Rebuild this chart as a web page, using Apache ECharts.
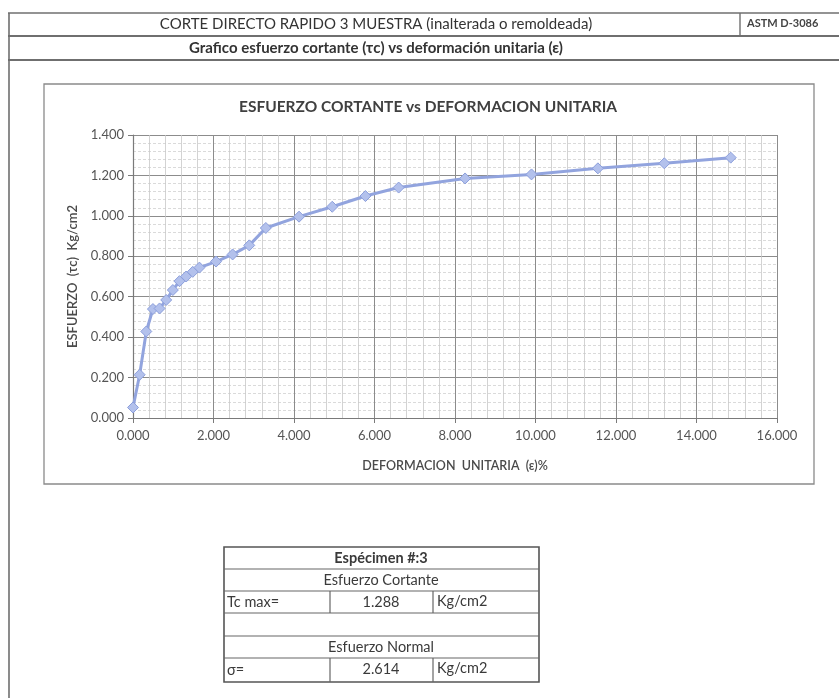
<!DOCTYPE html>
<html>
<head>
<meta charset="utf-8">
<script src="https://cdn.jsdelivr.net/npm/echarts@6/dist/echarts.min.js"></script>
<style>
  html, body { margin: 0; padding: 0; background: #ffffff; }
  #chart { width: 839px; height: 698px; }
</style>
</head>
<body>
<div id="chart"></div>
<script>
// Unit strain (%) and shear stress (kg/cm2) readings, specimen 3
const deformacion = [0, 0.165, 0.33, 0.495, 0.66, 0.825, 0.99, 1.155, 1.32, 1.485, 1.65,
  2.063, 2.475, 2.888, 3.3, 4.125, 4.95, 5.775, 6.6, 8.25, 9.9, 11.55, 13.2, 14.85];
const esfuerzo = [0.052, 0.214, 0.428, 0.539, 0.542, 0.584, 0.633, 0.677, 0.700, 0.723, 0.744,
  0.774, 0.809, 0.854, 0.940, 0.996, 1.045, 1.098, 1.140, 1.185, 1.205, 1.235, 1.260, 1.288];

// Summary table values
const tcMax = '1.288';
const sigmaNormal = '2.614';
const unidad = 'Kg/cm2';

const FONT = 'Lato, "Open Sans", "Noto Sans", sans-serif';
const LINE = '#6f6f6f';

const points = deformacion.map((x, i) => [x, esfuerzo[i]]);

function hline(x1, x2, y, w, c) {
  return { type: 'line', shape: { x1: x1, y1: y, x2: x2, y2: y },
    style: { stroke: c || LINE, lineWidth: w || 1.3 }, silent: true };
}
function vline(x, y1, y2, w, c) {
  return { type: 'line', shape: { x1: x, y1: y1, x2: x, y2: y2 },
    style: { stroke: c || LINE, lineWidth: w || 1.3 }, silent: true };
}
function txt(x, y, s, opt) {
  opt = opt || {};
  return { type: 'text', x: x, y: y, silent: true,
    style: { text: s, font: (opt.weight || 'normal') + ' ' + (opt.size || 14) + 'px ' + FONT,
      fill: opt.color || '#3a3a3a', align: opt.align || 'center', verticalAlign: 'middle' } };
}

// Summary table geometry
const tL = 224, tR = 539, c1 = 330, c2 = 433;
const rows = [547, 569, 591, 613, 636, 658, 682];

const graphics = [
  // page header
  hline(8, 839, 13, 1.6),
  hline(8, 839, 36, 2),
  hline(8, 839, 60, 2),
  vline(9, 13, 698, 1.6),
  vline(740, 13, 36, 1.4),
  txt(376, 24, 'CORTE DIRECTO RAPIDO 3 MUESTRA (inalterada o remoldeada)', { size: 15, color: '#333' }),
  txt(747, 23, 'ASTM D-3086', { size: 11, align: 'left', weight: 'bold', color: '#444' }),
  txt(376, 48, 'Grafico esfuerzo cortante (τc) vs deformación unitaria (ε)', { size: 15, color: '#333', weight: 'bold' }),
  // chart frame
  { type: 'rect', shape: { x: 44, y: 84, width: 770, height: 400 },
    style: { fill: 'none', stroke: '#8a8a8a', lineWidth: 1.3 }, silent: true },
  // summary table
  { type: 'rect', shape: { x: tL, y: rows[0], width: tR - tL, height: rows[6] - rows[0] },
    style: { fill: 'none', stroke: '#555', lineWidth: 1.6 }, silent: true },
  hline(tL, tR, rows[1], 1.2, '#666'),
  hline(tL, tR, rows[2], 1.2, '#666'),
  hline(tL, tR, rows[3], 1.2, '#666'),
  hline(tL, tR, rows[4], 1.2, '#666'),
  hline(tL, tR, rows[5], 1.2, '#666'),
  vline(c1, rows[2], rows[3], 1.2, '#666'),
  vline(c2, rows[2], rows[3], 1.2, '#666'),
  vline(c1, rows[5], rows[6], 1.2, '#666'),
  vline(c2, rows[5], rows[6], 1.2, '#666'),
  txt(381, 558, 'Espécimen #:3', { weight: 'bold', size: 14.5 }),
  txt(381, 580, 'Esfuerzo Cortante', { size: 14.5 }),
  txt(227, 602, 'Tc max=', { align: 'left', size: 14.5 }),
  txt(381, 602, tcMax, { size: 14.5 }),
  txt(437, 601, unidad, { align: 'left', size: 14.5 }),
  txt(381, 647, 'Esfuerzo Normal', { size: 14.5 }),
  txt(227, 670, 'σ=', { align: 'left', size: 14.5 }),
  txt(381, 669, sigmaNormal, { size: 14.5 }),
  txt(437, 668, unidad, { align: 'left', size: 14.5 })
];

const chart = echarts.init(document.getElementById('chart'), null, { renderer: 'canvas' });
chart.setOption({
  animation: false,
  backgroundColor: '#ffffff',
  title: {
    text: 'ESFUERZO CORTANTE vs DEFORMACION UNITARIA',
    left: 423, top: 94, textAlign: 'center',
    textStyle: { fontFamily: FONT, fontSize: 15.5, fontWeight: 'bold', color: '#404040' }
  },
  grid: { left: 133, top: 135, width: 644, height: 283, containLabel: false },
  xAxis: {
    type: 'value', min: 0, max: 16, interval: 2,
    name: 'DEFORMACION  UNITARIA  (ε)%',
    nameLocation: 'middle', nameGap: 41,
    nameTextStyle: { fontFamily: FONT, fontSize: 12.5, fontWeight: '600', color: '#4a4a4a' },
    axisLine: { show: true, lineStyle: { color: '#7a7a7a', width: 1.2 } },
    axisTick: { show: true, inside: false, length: 5, lineStyle: { color: '#7a7a7a' } },
    axisLabel: { fontFamily: FONT, fontSize: 13, color: '#555', margin: 11,
      formatter: v => v.toFixed(3) },
    splitLine: { show: true, lineStyle: { color: '#8c8c8c', width: 1 } },
    minorTick: { show: false, splitNumber: 5 },
    minorSplitLine: { show: true, lineStyle: { color: '#c8c8c8', width: 0.8 } }
  },
  yAxis: {
    type: 'value', min: 0, max: 1.4, interval: 0.2,
    name: 'ESFUERZO  (τc)  Kg/cm2',
    nameLocation: 'middle', nameGap: 54, nameRotate: 90,
    nameTextStyle: { fontFamily: FONT, fontSize: 13, fontWeight: '600', color: '#4a4a4a' },
    axisLine: { show: true, lineStyle: { color: '#7a7a7a', width: 1.2 } },
    axisTick: { show: true, inside: false, length: 5, lineStyle: { color: '#7a7a7a' } },
    axisLabel: { fontFamily: FONT, fontSize: 13, color: '#555', margin: 9,
      formatter: v => v.toFixed(3) },
    splitLine: { show: true, lineStyle: { color: '#8c8c8c', width: 1 } },
    minorTick: { show: false, splitNumber: 5 },
    minorSplitLine: { show: true, lineStyle: { color: '#d0d0d0', width: 0.8, type: [3, 2] } }
  },
  series: [{
    type: 'line',
    data: points,
    symbol: 'diamond',
    symbolSize: 11,
    lineStyle: { color: '#92a4de', width: 3 },
    itemStyle: { color: '#b3c1ec', borderColor: '#8c9fdc', borderWidth: 1 },
    z: 5
  }],
  graphic: graphics
});
</script>
</body>
</html>
